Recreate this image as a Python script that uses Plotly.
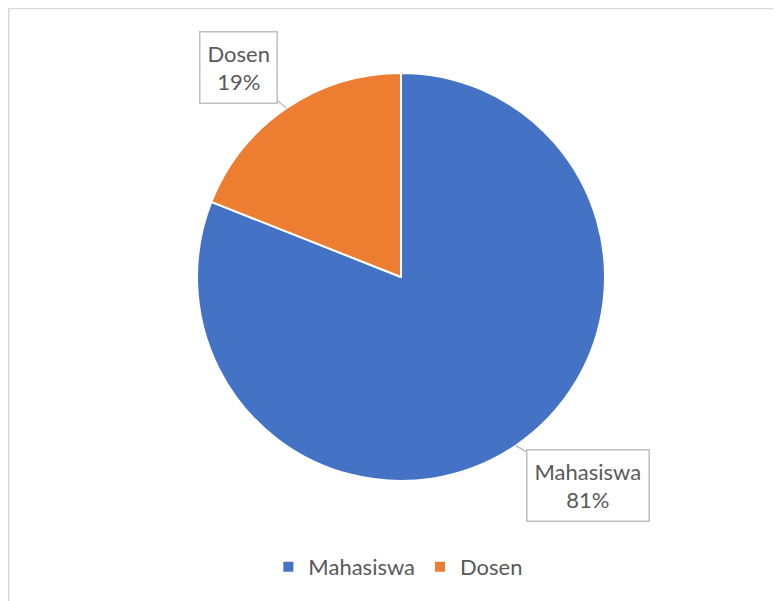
import math
import plotly.graph_objects as go

# the page body adds an 8px margin, so the figure starts at (8, 8)
W, H = 773, 593

labels = ["Mahasiswa", "Dosen"]
values = [81, 19]
colors = ["#4472C4", "#ED7D31"]
# callout box offsets (pixels) from the slice edge point
offsets = [(72, 40), (-48, -41)]

# pie placement in figure pixels
cx, cy, r = 393, 269, 204
domain_x = [(cx - r) / W, (cx + r) / W]
domain_y = [1 - (cy + r) / H, 1 - (cy - r) / H]

fig = go.Figure()
fig.add_trace(
    go.Pie(
        labels=labels,
        values=values,
        sort=False,
        direction="clockwise",
        rotation=0,
        textinfo="none",
        hoverinfo="label+percent",
        marker=dict(colors=colors, line=dict(color="white", width=2)),
        domain=dict(x=domain_x, y=domain_y),
    )
)

total = sum(values)
start = 0.0
for lab, val, (ox, oy) in zip(labels, values, offsets):
    frac = val / total
    mid = math.radians((start + frac / 2) * 360)
    start += frac
    px_ = cx + r * math.sin(mid)
    py_ = cy - r * math.cos(mid)
    fig.add_annotation(
        x=px_ / W,
        y=1 - py_ / H,
        xref="paper",
        yref="paper",
        text=f"{lab}<br>{round(frac * 100)}%",
        showarrow=True,
        arrowhead=0,
        arrowwidth=1.5,
        arrowcolor="#bfbfbf",
        ax=ox,
        ay=oy,
        bordercolor="#bfbfbf",
        borderwidth=1.5,
        borderpad=7,
        bgcolor="white",
        font=dict(size=22, color="#595959"),
    )

fig.add_shape(
    type="rect",
    xref="paper",
    yref="paper",
    x0=0.001,
    x1=1.05,
    y0=-0.05,
    y1=0.999,
    line=dict(color="#d9d9d9", width=1.5),
)

fig.update_layout(
    width=W,
    height=H,
    margin=dict(l=0, r=0, t=0, b=0),
    paper_bgcolor="white",
    font=dict(family="Lato, 'Open Sans', sans-serif", color="#595959"),
    showlegend=True,
    legend=dict(
        orientation="h",
        x=0.505,
        xanchor="center",
        y=1 - 559 / H,
        yanchor="middle",
        font=dict(size=22, color="#595959"),
        itemwidth=30,
    ),
)

fig.write_html("out.html")
